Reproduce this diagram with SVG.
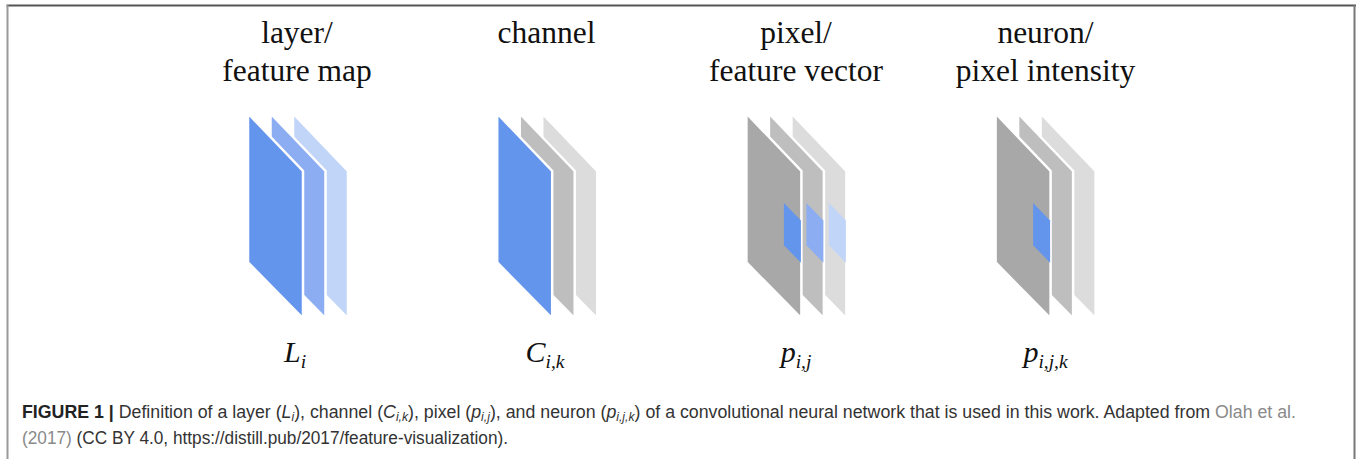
<svg xmlns="http://www.w3.org/2000/svg" xmlns:xlink="http://www.w3.org/1999/xlink" width="1358" height="459" viewBox="0 0 1358 459">
  <style>
    .title { font-family: "Liberation Serif", "Times New Roman", serif; font-size: 31.5px; fill: #111; text-anchor: middle; }
    .math { font-family: "Liberation Serif", "Times New Roman", serif; font-style: italic; font-size: 30px; fill: #111; text-anchor: middle; }
    .sub { font-size: 19.5px; }
    .cap { font-family: "Liberation Sans", Arial, sans-serif; font-size: 17.5px; fill: #333; }
    .capb { font-weight: bold; fill: #222; }
    .link { fill: #8a8a8a; }
    .it { font-style: italic; }
    .csub { font-size: 12px; }
    .sheet { stroke: #fff; stroke-width: 2.5; stroke-linejoin: miter; }
    .patch { stroke: none; }
    .b1 { fill: #6495ED; }
    .b2 { fill: #8CADF1; }
    .b3 { fill: #C1D5F8; }
    .g1 { fill: #A8A8A8; }
    .g2 { fill: #BEBEBE; }
    .g3 { fill: #DCDCDC; }
    .frame { fill: none; stroke-width: 2; }
  </style>
  <defs>
    <!-- one slanted sheet of a stack, drawn from its top-left corner -->
    <path id="sheet" d="M-0.5,-1.5 L54.5,56 L54.5,203.5 L-0.5,147.5 Z"/>
    <!-- a single pixel cell on a sheet -->
    <path id="cell" d="M37,88 L54,105.6 L54,147.8 L37,130.2 Z"/>
  </defs>

  <!-- figure frame -->
  <g id="frame">
    <line class="frame" x1="6.5" y1="5.5" x2="1356" y2="5.5" stroke="#555"/>
    <line class="frame" x1="7.5" y1="5" x2="7.5" y2="459" stroke="#999"/>
    <line class="frame" x1="1354.5" y1="5" x2="1354.5" y2="459" stroke="#777"/>
  </g>

  <!-- layer / feature map -->
  <g id="layer">
    <text class="title" x="297" y="43">layer/</text>
    <text class="title" x="297" y="81">feature map</text>
    <g transform="translate(248.5,115)">
      <use xlink:href="#sheet" class="sheet b3" x="45"/>
      <use xlink:href="#sheet" class="sheet b2" x="22.5"/>
      <use xlink:href="#sheet" class="sheet b1"/>
    </g>
    <text class="math" x="295" y="362">L<tspan class="sub" dy="6">i</tspan></text>
  </g>

  <!-- channel -->
  <g id="channel">
    <text class="title" x="546.5" y="43">channel</text>
    <g transform="translate(497.7,115)">
      <use xlink:href="#sheet" class="sheet g3" x="45"/>
      <use xlink:href="#sheet" class="sheet g2" x="22.5"/>
      <use xlink:href="#sheet" class="sheet b1"/>
    </g>
    <text class="math" x="545" y="362">C<tspan class="sub" dy="6">i,k</tspan></text>
  </g>

  <!-- pixel / feature vector -->
  <g id="pixel">
    <text class="title" x="796" y="43">pixel/</text>
    <text class="title" x="796" y="81">feature vector</text>
    <g transform="translate(746.9,115)">
      <use xlink:href="#sheet" class="sheet g3" x="45"/>
      <use xlink:href="#cell" class="patch b3" x="45"/>
      <use xlink:href="#sheet" class="sheet g2" x="22.5"/>
      <use xlink:href="#cell" class="patch b2" x="22.5"/>
      <use xlink:href="#sheet" class="sheet g1"/>
      <use xlink:href="#cell" class="patch b1"/>
    </g>
    <text class="math" x="796" y="362">p<tspan class="sub" dy="6">i,j</tspan></text>
  </g>

  <!-- neuron / pixel intensity -->
  <g id="neuron">
    <text class="title" x="1045.5" y="43">neuron/</text>
    <text class="title" x="1045.5" y="81">pixel intensity</text>
    <g transform="translate(996.1,115)">
      <use xlink:href="#sheet" class="sheet g3" x="45"/>
      <use xlink:href="#sheet" class="sheet g2" x="22.5"/>
      <use xlink:href="#sheet" class="sheet g1"/>
      <use xlink:href="#cell" class="patch b1"/>
    </g>
    <text class="math" x="1045.5" y="362">p<tspan class="sub" dy="6">i,j,k</tspan></text>
  </g>

  <!-- connectors: none in this figure -->
  <g id="connectors"/>

  <!-- caption -->
  <g id="caption">
    <text class="cap" x="22" y="418" textLength="1274" lengthAdjust="spacingAndGlyphs"><tspan class="capb">FIGURE 1 |</tspan> Definition of a layer (<tspan class="it">L</tspan><tspan class="it csub" dy="3">i</tspan><tspan dy="-3">), channel (</tspan><tspan class="it">C</tspan><tspan class="it csub" dy="3">i,k</tspan><tspan dy="-3">), pixel (</tspan><tspan class="it">p</tspan><tspan class="it csub" dy="3">i,j</tspan><tspan dy="-3">), and neuron (</tspan><tspan class="it">p</tspan><tspan class="it csub" dy="3">i,j,k</tspan><tspan dy="-3">) of a convolutional neural network that is used in this work. Adapted from </tspan><tspan class="link">Olah et al.</tspan></text>
    <text class="cap" x="22" y="444" textLength="486" lengthAdjust="spacingAndGlyphs"><tspan class="link">(2017)</tspan> (CC BY 4.0, https://distill.pub/2017/feature-visualization).</text>
  </g>
</svg>
